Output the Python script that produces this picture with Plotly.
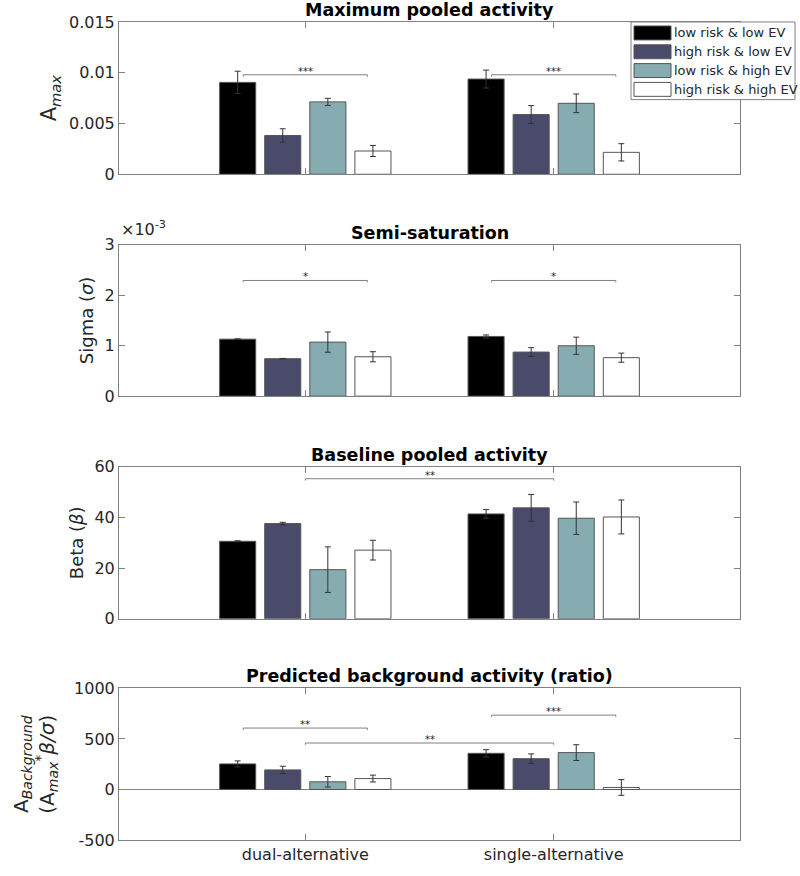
import plotly.graph_objects as go

# ---------------- data ----------------
groups = ["dual-alternative", "single-alternative"]
group_pos = [1, 2]
conditions = ["low risk & low EV", "high risk & low EV", "low risk & high EV", "high risk & high EV"]
colors = ["#000000", "#4a4a6b", "#86acb2", "#ffffff"]

# per condition: [dual, single]
amax_vals = [[0.00905, 0.00938], [0.00382, 0.00588], [0.00713, 0.00699], [0.00229, 0.00216]]
amax_err = [[0.00110, 0.00088], [0.00066, 0.00088], [0.00035, 0.00092], [0.00055, 0.00085]]

sigma_vals = [[1.129e-3, 1.182e-3], [0.742e-3, 0.873e-3], [1.070e-3, 0.998e-3], [0.780e-3, 0.762e-3]]
sigma_err = [[0.005e-3, 0.030e-3], [0.005e-3, 0.087e-3], [0.200e-3, 0.170e-3], [0.100e-3, 0.090e-3]]

beta_vals = [[30.6, 41.4], [37.6, 43.8], [19.4, 39.7], [27.1, 40.2]]
beta_err = [[0.2, 1.7], [0.5, 5.3], [9.0, 6.4], [3.9, 6.7]]

bg_vals = [[253, 358], [194, 305], [76, 365], [108, 20]]
bg_err = [[30, 36], [36, 47], [52, 78], [34, 78]]

# significance brackets: (x0, x1, y, label)
amax_sig = [(0.75, 1.25, 0.0098, "***"), (1.75, 2.25, 0.0098, "***")]
sigma_sig = [(0.75, 1.25, 2.29e-3, "*"), (1.75, 2.25, 2.29e-3, "*")]
beta_sig = [(1.0, 2.0, 55.3, "**")]
bg_sig = [(0.75, 1.25, 608, "**"), (1.0, 2.0, 460, "**"), (1.75, 2.25, 736, "***")]

titles = ["Maximum pooled activity", "Semi-saturation", "Baseline pooled activity",
          "Predicted background activity (ratio)"]
ytitles = ["A<sub><i>max</i></sub>", "Sigma (<i>σ</i>)", "Beta (<i>β</i>)",
           "A<sub><i>Background</i></sub><br>(A<sub><i>max</i></sub><sup>*</sup><i>β/σ</i>)"]
ytitle_sizes = [21, 18, 18, 20]
ytitle_standoff = [6, 6, 6, 14]
yranges = [[0, 0.015], [0, 0.003], [0, 60], [-500, 1000]]
ytickvals = [[0, 0.005, 0.01, 0.015], [0, 0.001, 0.002, 0.003], [0, 20, 40, 60], [-500, 0, 500, 1000]]
yticktext = [["0", "0.005", "0.01", "0.015"], ["0", "1", "2", "3"], ["0", "20", "40", "60"],
             ["-500", "0", "500", "1000"]]

panels = [(amax_vals, amax_err, amax_sig), (sigma_vals, sigma_err, sigma_sig),
          (beta_vals, beta_err, beta_sig), (bg_vals, bg_err, bg_sig)]

# ---------------- layout geometry (pixels) ----------------
W, H = 800, 876
L, R, T, B = 119, 740, 22, 844
panel_px = [(22, 175), (245.7, 398), (469, 621.7), (691.7, 844)]


def px_x(px):
    return (px - L) / (R - L)


def px_y(py):
    return (B - py) / (B - T)


FONT = "DejaVu Sans"
AXC = "#808080"
TXT = "#262626"

fig = go.Figure()
layout = dict(
    width=W, height=H, margin=dict(l=L, r=W - R, t=T, b=H - B),
    paper_bgcolor="white", plot_bgcolor="white",
    barmode="group", bargap=0.274, bargroupgap=0.2,
    showlegend=False, font=dict(family=FONT, size=16, color=TXT),
)
annotations = []
shapes = []

for i, (vals, errs, sigs) in enumerate(panels):
    sfx = "" if i == 0 else str(i + 1)
    xa, ya = "x" + sfx, "y" + sfx
    for c in range(4):
        fig.add_trace(go.Bar(
            x=group_pos, y=vals[c], name=conditions[c], xaxis=xa, yaxis=ya,
            marker=dict(color=colors[c], line=dict(color="#555555", width=1)),
            error_y=dict(type="data", array=errs[c], color="#333333", thickness=1, width=3),
            hoverinfo="skip",
        ))
    rng = yranges[i][1] - yranges[i][0]
    tick = rng * 0.012
    for (x0, x1, yy, lab) in sigs:
        fig.add_trace(go.Scatter(
            x=[x0, x0, x1, x1], y=[yy - tick, yy, yy, yy - tick], mode="lines",
            line=dict(color=AXC, width=1), xaxis=xa, yaxis=ya, hoverinfo="skip",
        ))
        annotations.append(dict(
            x=(x0 + x1) / 2, y=yy, xref=xa, yref=ya, text=lab, showarrow=False,
            yanchor="bottom", yshift=-4, font=dict(size=10, color=TXT, family=FONT),
        ))
    top, bot = panel_px[i]
    layout["xaxis" + sfx] = dict(
        domain=[0, 1], anchor=ya, range=[0.25, 2.75],
        tickvals=group_pos, ticktext=groups, showticklabels=(i == 3),
        ticks="inside", ticklen=6, tickcolor=AXC, mirror="ticks",
        showline=True, linecolor=AXC, linewidth=1, showgrid=False, zeroline=False,
        tickfont=dict(size=16, color=TXT),
    )
    layout["yaxis" + sfx] = dict(
        domain=[px_y(bot), px_y(top)], anchor=xa, range=yranges[i],
        tickvals=ytickvals[i], ticktext=yticktext[i],
        ticks="inside", ticklen=6, tickcolor=AXC, mirror="ticks",
        showline=True, linecolor=AXC, linewidth=1, showgrid=False,
        zeroline=(i == 3), zerolinecolor=AXC, zerolinewidth=1,
        tickfont=dict(size=16, color=TXT),
        title=dict(text=ytitles[i], font=dict(size=ytitle_sizes[i], color=TXT),
                   standoff=ytitle_standoff[i]),
    )
    annotations.append(dict(
        x=0.5, y=px_y(top), xref="paper", yref="paper", text="<b>" + titles[i] + "</b>",
        showarrow=False, yanchor="bottom", xanchor="center", yshift=0,
        font=dict(size=17.5, color="#000000", family=FONT),
    ))

# exponent label of the sigma panel
annotations.append(dict(
    x=0, y=px_y(242), xref="paper", yref="paper", text="×10<sup>-3</sup>",
    showarrow=False, xanchor="left", yanchor="bottom", font=dict(size=16, color=TXT),
))

# custom legend (box, swatches, labels)
shapes.append(dict(type="rect", xref="paper", yref="paper",
                   x0=px_x(631), x1=px_x(795), y0=px_y(100), y1=px_y(22),
                   fillcolor="white", line=dict(color="#808080", width=1), layer="above"))
row_c = [33, 51.9, 70.8, 89.7]
for c in range(4):
    shapes.append(dict(type="rect", xref="paper", yref="paper",
                       x0=px_x(634), x1=px_x(671), y0=px_y(row_c[c] + 7), y1=px_y(row_c[c] - 7),
                       fillcolor=colors[c], line=dict(color="#555555", width=1), layer="above"))
    annotations.append(dict(
        x=px_x(672), y=px_y(row_c[c]), xref="paper", yref="paper", text=conditions[c],
        showarrow=False, xanchor="left", yanchor="middle", font=dict(size=13, color=TXT),
    ))

layout["annotations"] = annotations
layout["shapes"] = shapes
fig.update_layout(**layout)
fig.write_html("out.html", config={"displayModeBar": False},
               post_script="document.body.style.margin='0';document.body.style.overflow='hidden';")
